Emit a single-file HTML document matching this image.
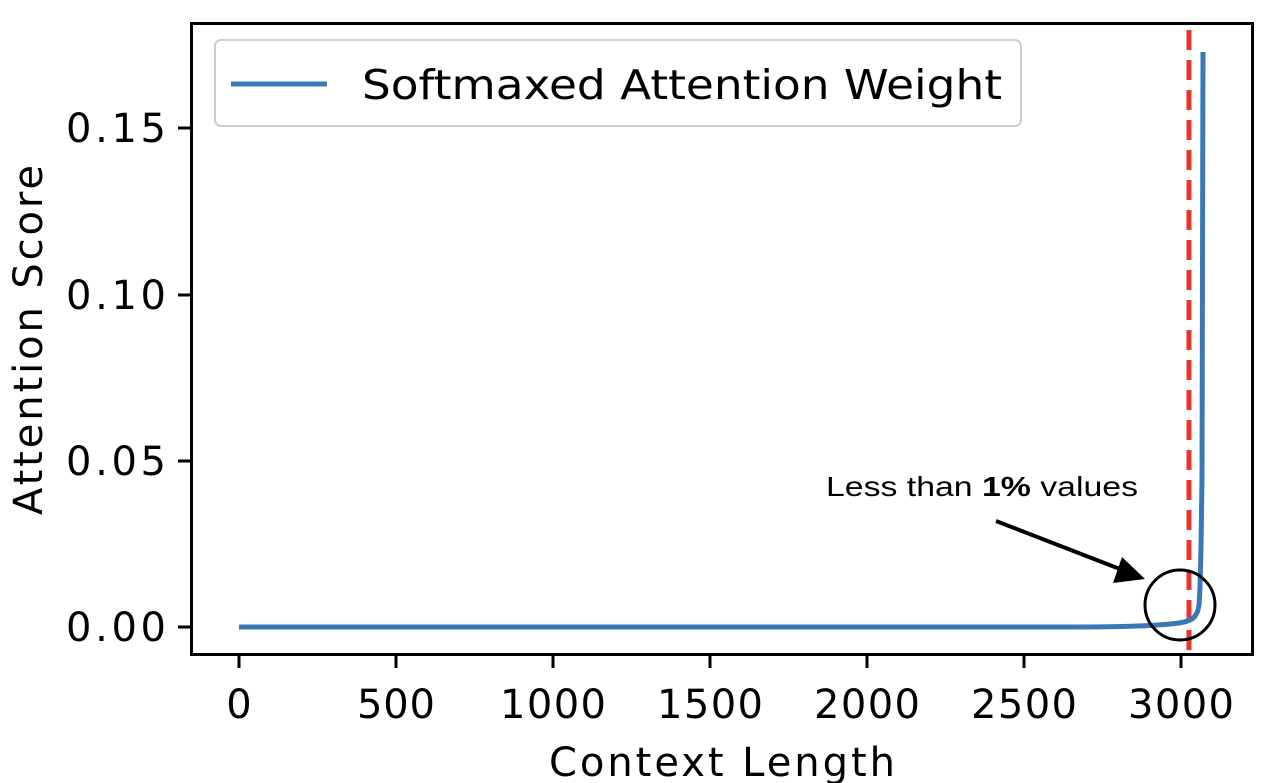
<!DOCTYPE html>
<html><head><style>body{margin:0;background:#fff}svg{display:block}</style></head><body>
<svg width="1280" height="783" xmlns="http://www.w3.org/2000/svg" font-family="'DejaVu Sans','Liberation Sans',sans-serif">
<rect width="1280" height="783" fill="#fff"/>
<g stroke="#000" stroke-width="3">
<line x1="191" y1="627" x2="178" y2="627"/><line x1="191" y1="461" x2="178" y2="461"/>
<line x1="191" y1="295" x2="178" y2="295"/><line x1="191" y1="128" x2="178" y2="128"/>
<line x1="239" y1="655" x2="239" y2="668"/><line x1="396" y1="655" x2="396" y2="668"/>
<line x1="553" y1="655" x2="553" y2="668"/><line x1="710" y1="655" x2="710" y2="668"/>
<line x1="867" y1="655" x2="867" y2="668"/><line x1="1024" y1="655" x2="1024" y2="668"/>
<line x1="1181" y1="655" x2="1181" y2="668"/>
</g>
<g font-size="40" fill="#000" text-anchor="end" lengthAdjust="spacingAndGlyphs">
<text x="166" y="641" textLength="100">0.00</text><text x="166" y="475" textLength="100">0.05</text>
<text x="166" y="309" textLength="100">0.10</text><text x="166" y="142" textLength="100">0.15</text>
</g>
<g font-size="40" fill="#000" text-anchor="middle">
<text x="239" y="718">0</text><text x="396" y="718" textLength="78">500</text><text x="553" y="718" textLength="106">1000</text>
<text x="710" y="718" textLength="106">1500</text><text x="867" y="718" textLength="106">2000</text><text x="1024" y="718" textLength="106">2500</text>
<text x="1181" y="718" textLength="106">3000</text>
<text x="722" y="776" textLength="346">Context Length</text>
<text transform="translate(42,340) rotate(-90)" textLength="350">Attention Score</text>
</g>
<line x1="1189" y1="30" x2="1189" y2="655" stroke="#e8352b" stroke-width="5" stroke-dasharray="20,10"/>
<path d="M239,627 L1080,627 C1120,627 1150,626 1170,624 C1190,622 1197,620 1199,605 C1201,580 1201,540 1202,480 L1203,52" fill="none" stroke="#3a78b5" stroke-width="5"/>
<rect x="191.5" y="23.5" width="1061" height="631" fill="none" stroke="#000" stroke-width="3"/>
<rect x="215" y="40" width="806" height="86" rx="6" fill="#fff" stroke="#ccc" stroke-width="2"/>
<line x1="231" y1="84" x2="327" y2="84" stroke="#3a78b5" stroke-width="5"/>
<text x="362" y="99" font-size="41" fill="#000" textLength="640" lengthAdjust="spacingAndGlyphs">Softmaxed Attention Weight</text>
<circle cx="1180" cy="605" r="35" fill="none" stroke="#000" stroke-width="3"/>
<line x1="996" y1="521" x2="1125" y2="571" stroke="#000" stroke-width="4"/>
<polygon points="1145,579 1113,583 1122,557" fill="#000"/>
<text x="826" y="496" font-size="28" font-family="'Liberation Sans',sans-serif" textLength="312" lengthAdjust="spacingAndGlyphs" fill="#000">Less than <tspan font-weight="bold">1%</tspan> values</text>
</svg>
</body></html>
